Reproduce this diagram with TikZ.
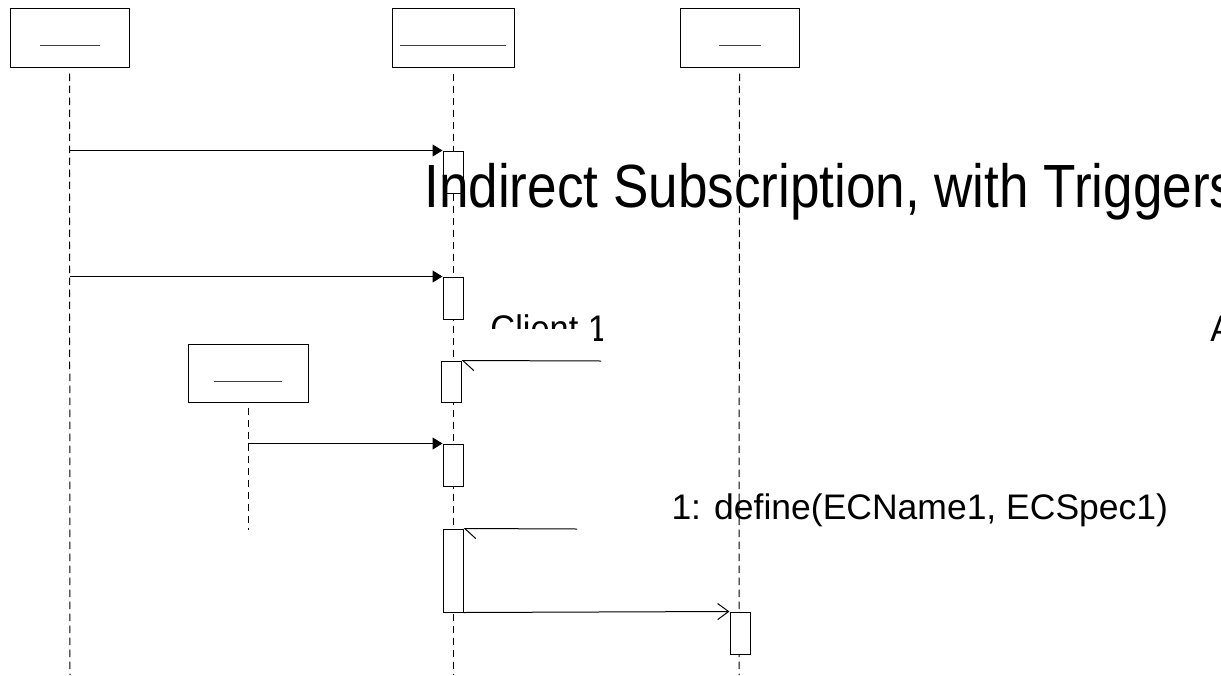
\documentclass[tikz,border=0pt]{standalone}
\usepackage{fontspec}
\setmainfont{Liberation Sans}
\usetikzlibrary{arrows.meta}
\begin{document}
\begin{tikzpicture}[x=1pt,y=-1pt,line width=1pt,
  headbox/.style={draw=black,fill=white,rectangle,inner sep=0pt,minimum width=119pt,minimum height=59pt},
  actbox/.style={draw=black,fill=white,rectangle,inner sep=0pt,minimum width=20pt,minimum height=#1},
  lifeline/.style={draw=black,dash pattern=on 7.5pt off 4.5pt},
  namebar/.style={draw=black!75},
  syncmsg/.style={draw=black,-{Triangle[length=10pt,width=12pt]}},
  halfmsg/.style={draw=black,-{Straight Barb[harpoon,length=11pt,width=20pt,line width=1pt]}},
  openmsg/.style={draw=black,-{Straight Barb[length=11pt,width=16pt,line width=1pt]}},
  lbl/.style={anchor=base west,inner sep=0pt,text=black}]
\clip (0,0) rectangle (1221,675);
\fill[white] (0,0) rectangle (1221,675);

% lifeline heads
\node[headbox] (h1) at (69.5,37.5) {};
\node[headbox,minimum width=122pt] (h2) at (453,37.5) {};
\node[headbox] (h3) at (739.5,37.5) {};
\node[headbox,minimum width=120pt,minimum height=58pt] (h4) at (248,373) {};
\draw[namebar] (40,45) -- (100,45);
\draw[namebar] (400,45) -- (506,45);
\draw[namebar] (719,45) -- (761,45);
\draw[namebar] (214,381) -- (282,381);

% lifeline ends
\coordinate (e1) at (70,675);
\coordinate (e2) at (453,675);
\coordinate (e3) at (739,675);
\coordinate (e4) at (248,530);

% lifelines
\draw[lifeline] (h1.south) ++(0,6) -- (e1);
\draw[lifeline] (h2.south) ++(0,6) -- (e2);
\draw[lifeline] (h3.south) ++(0,6) -- (e3);
\draw[lifeline] (h4.south) ++(0,5) -- (e4);

% activation boxes
\node[actbox=42pt] (a1) at (453,172) {};
\node[actbox=42pt] (a2) at (453,298) {};
\node[actbox=41pt] (a3) at (451,381.5) {};
\node[actbox=42pt] (a4) at (453,465) {};
\node[actbox=83pt] (a5) at (453,570.5) {};
\node[actbox=42pt] (a6) at (740,633) {};

% messages
\draw[syncmsg] (h1.south |- a1.north west) -- (a1.north west);
\draw[syncmsg] (h1.south |- a2.north west) -- (a2.north west);
\coordinate (s3) at (601,361);
\draw[halfmsg] (s3) -- (a3.north east);
\draw[syncmsg] (h4.south |- a4.north west) -- (a4.north west);
\coordinate (s5) at (577,529);
\draw[halfmsg] (s5) -- (a5.north east);
\draw[openmsg] (a5.south east) -- (a6.north west);

% texts
\node[lbl,font=\fontsize{61}{61}\selectfont,xscale=0.87] (title) at (424,207) {Indirect Subscription, with Triggers};
\begin{scope}
  \clip (480,300) -- (602,300) -- (602,343) -- (594,343) -- (594,328) -- (480,328) -- cycle;
  \node[lbl,font=\fontsize{37}{37}\selectfont,xscale=0.93] (client) at (490,341) {Client 1};
\end{scope}
\node[lbl,font=\fontsize{37}{37}\selectfont,xscale=0.93] (aleft) at (1210,341) {A};
\node[lbl,font=\fontsize{35.5}{35.5}\selectfont] (define) at (671,519) {1: define(ECName1, ECSpec1)};
\end{tikzpicture}
\end{document}
